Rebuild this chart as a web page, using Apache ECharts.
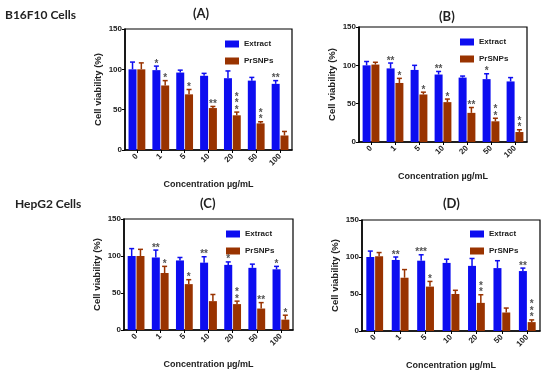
<!DOCTYPE html>
<html><head><meta charset="utf-8">
<script src="https://cdn.jsdelivr.net/npm/echarts@6/dist/echarts.min.js"></script>
<style>html,body{margin:0;padding:0;background:#fff}#c{width:550px;height:376px}</style>
</head><body><div id="c"></div>
<script>
var categories = ['0', '1', '5', '10', '20', '50', '100'];
var yTicks = [0, 50, 100, 150];

var aExtract = [100, 99, 96, 92, 89, 86, 82];
var aExtractErr = [9, 5, 3, 3, 9, 4, 4];
var aPrSNPs = [100, 80, 69, 52, 43, 33, 18];
var aPrSNPsErr = [8, 6, 6, 2, 4, 2, 5];
var aExtractStars = ['', '*', '', '', '', '', '**'];
var aPrSNPsStars = ['', '*', '*', '**', '*\n*\n*', '*\n*', ''];

var bExtract = [100, 96, 94, 88, 84, 82, 79];
var bExtractErr = [5, 7, 6, 4, 2, 7, 5];
var bPrSNPs = [101, 77, 62, 52, 38, 27, 13];
var bPrSNPsErr = [3, 6, 3, 4, 7, 4, 3];
var bExtractStars = ['', '**', '', '**', '', '*', ''];
var bPrSNPsStars = ['', '*', '*', '*', '**', '*\n*', '*\n*'];

var cExtract = [100, 98, 94, 91, 88, 84, 82];
var cExtractErr = [10, 10, 4, 8, 4, 5, 4];
var cPrSNPs = [100, 77, 62, 39, 35, 29, 14];
var cPrSNPsErr = [9, 9, 6, 9, 4, 8, 6];
var cExtractStars = ['', '**', '', '**', '*', '', '*'];
var cPrSNPsStars = ['', '*', '*', '', '*\n*', '**', '*'];

var dExtract = [100, 96, 95, 92, 88, 85, 81];
var dExtractErr = [8, 4, 8, 5, 10, 10, 4];
var dPrSNPs = [101, 72, 60, 50, 38, 25, 12];
var dPrSNPsErr = [5, 11, 7, 5, 11, 6, 3];
var dExtractStars = ['', '**', '***', '', '', '', '**'];
var dPrSNPsStars = ['', '', '*', '', '*\n*', '', '*\n*\n*'];

var panelTitles = ['(A)', '(B)', '(C)', '(D)'];
var rowLabels = ['B16F10 Cells', 'HepG2 Cells'];
var yName = 'Cell viability (%)';
var xName = 'Concentration \u00b5g/mL';

var BLUE = '#0d0df0', BROWN = '#993300';
var AX = 'Liberation Sans, Arial, sans-serif';

var panels = [
  {ext: aExtract, extErr: aExtractErr, prs: aPrSNPs, prsErr: aPrSNPsErr, es: aExtractStars, ps: aPrSNPsStars,
   grid: {left: 125, top: 29, width: 167, height: 121}, title: [202, 15], legend: [220, 35]},
  {ext: bExtract, extErr: bExtractErr, prs: bPrSNPs, prsErr: bPrSNPsErr, es: bExtractStars, ps: bPrSNPsStars,
   grid: {left: 359, top: 27, width: 168, height: 115}, title: [448, 18], legend: [455, 33]},
  {ext: cExtract, extErr: cExtractErr, prs: cPrSNPs, prsErr: cPrSNPsErr, es: cExtractStars, ps: cPrSNPsStars,
   grid: {left: 124, top: 219, width: 169, height: 111}, title: [209, 205], legend: [221, 225]},
  {ext: dExtract, extErr: dExtractErr, prs: dPrSNPs, prsErr: dPrSNPsErr, es: dExtractStars, ps: dPrSNPsStars,
   grid: {left: 362, top: 220, width: 178, height: 111}, title: [452, 205], legend: [465, 225]}
];

var OFF = 4.4;
function errSeries(idx, vals, errs, stars, sign, color) {
  return {
    type: 'custom', xAxisIndex: idx, yAxisIndex: idx, z: 5,
    data: vals.map(function (v, i) { return [i, v, errs[i]]; }),
    encode: {x: 0, y: 1},
    renderItem: function (params, api) {
      var i = api.value(0), v = api.value(1), e = api.value(2);
      var p0 = api.coord([i, v]);
      var p1 = api.coord([i, v + e]);
      var x = p0[0] + sign * OFF;
      var st = stars[params.dataIndex];
      var ch = [
        {type: 'line', shape: {x1: x, y1: p0[1], x2: x, y2: p1[1]}, style: {stroke: color, lineWidth: 1.5}},
        {type: 'line', shape: {x1: x - 2.5, y1: p1[1], x2: x + 2.5, y2: p1[1]}, style: {stroke: color, lineWidth: 1.5}}
      ];
      if (st) {
        ch.push({type: 'text', x: x, y: p1[1] + 1,
          style: {text: st, fill: '#555', font: 'bold 10px ' + AX, align: 'center', verticalAlign: 'bottom', lineHeight: 6.5}});
      }
      return {type: 'group', children: ch};
    }
  };
}

var option = {
  animation: false,
  backgroundColor: '#fff',
  grid: [], xAxis: [], yAxis: [], series: [], legend: [], graphic: []
};

panels.forEach(function (p, k) {
  option.grid.push(Object.assign({show: true, borderColor: '#000', borderWidth: 1.2, backgroundColor: 'transparent'}, p.grid));
  option.xAxis.push({
    type: 'category', gridIndex: k, data: categories,
    name: xName, nameLocation: 'middle', nameGap: 30,
    nameTextStyle: {fontFamily: AX, fontWeight: 'bold', fontSize: 9, color: '#222'},
    axisLine: {lineStyle: {color: '#000', width: 1.5}},
    axisTick: {show: true, alignWithLabel: true, length: 3, lineStyle: {color: '#000'}},
    axisLabel: {rotate: 45, fontFamily: AX, fontWeight: 'bold', fontSize: 8, color: '#222', margin: 5}
  });
  option.yAxis.push({
    type: 'value', gridIndex: k, min: 0, max: 150, interval: 50,
    name: yName, nameLocation: 'middle', nameGap: 22, nameRotate: 90,
    nameTextStyle: {fontFamily: AX, fontWeight: 'bold', fontSize: 9.5, color: '#222'},
    axisLine: {show: true, lineStyle: {color: '#000', width: 1.5}},
    axisTick: {show: true, length: 3, lineStyle: {color: '#000'}},
    splitLine: {show: false},
    axisLabel: {fontFamily: AX, fontWeight: 'bold', fontSize: 8, color: '#222', margin: 3}
  });
  option.series.push({
    type: 'bar', name: 'Extract', xAxisIndex: k, yAxisIndex: k, data: p.ext,
    barWidth: 8, barGap: '10%', itemStyle: {color: BLUE}
  });
  option.series.push({
    type: 'bar', name: 'PrSNPs', xAxisIndex: k, yAxisIndex: k, data: p.prs,
    barWidth: 8, barGap: '10%', itemStyle: {color: BROWN}
  });
  option.series.push(errSeries(k, p.ext, p.extErr, p.es, -1, BLUE));
  option.series.push(errSeries(k, p.prs, p.prsErr, p.ps, 1, BROWN));
  option.legend.push({
    left: p.legend[0], top: p.legend[1], orient: 'vertical', icon: 'rect',
    itemWidth: 14, itemHeight: 7, itemGap: 9,
    data: ['Extract', 'PrSNPs'],
    textStyle: {fontFamily: AX, fontWeight: 'bold', fontSize: 8, color: '#222'},
    selectedMode: false
  });
  option.graphic.push({type: 'text', left: p.title[0] - 9, top: p.title[1] - 8,
    style: {text: panelTitles[k], font: 'bold 13px Lato, sans-serif', fill: '#222'}});
});
option.graphic.push({type: 'text', left: 5, top: 9, style: {text: rowLabels[0], font: 'bold 12px Lato, sans-serif', fill: '#222'}});
option.graphic.push({type: 'text', left: 15, top: 198, style: {text: rowLabels[1], font: 'bold 12px Lato, sans-serif', fill: '#222'}});

var chart = echarts.init(document.getElementById('c'), null, {renderer: 'canvas'});
chart.setOption(option);
</script></body></html>
